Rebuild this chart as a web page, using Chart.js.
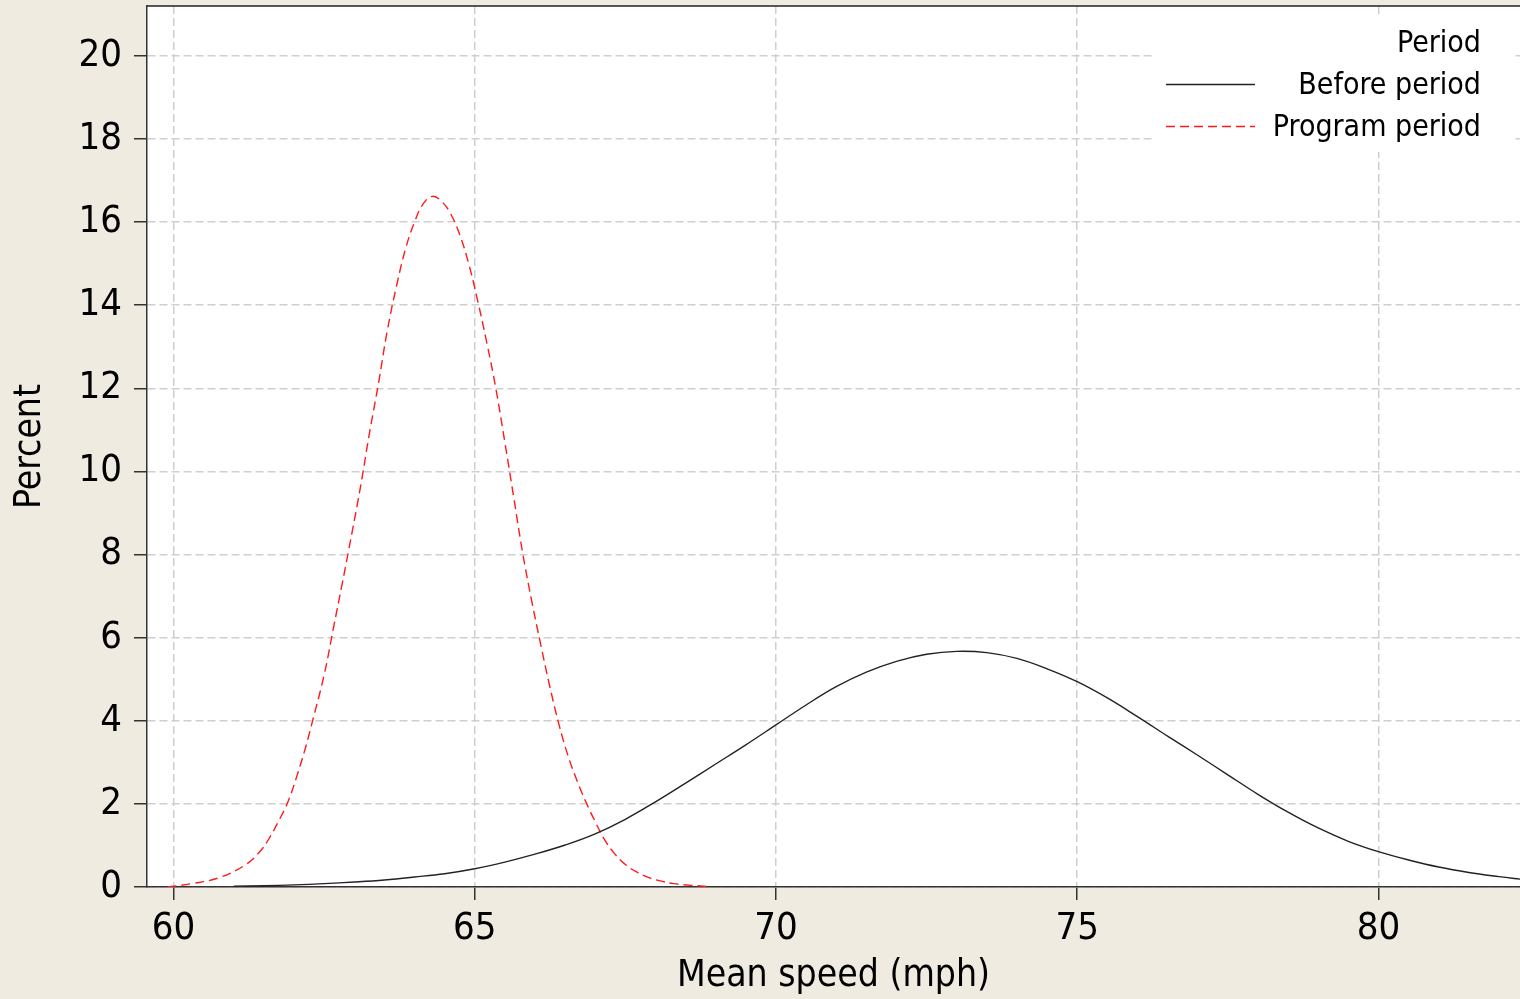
<!DOCTYPE html>
<html>
<head>
<meta charset="utf-8">
<script src="https://cdn.jsdelivr.net/npm/chart.js@4.4.1/dist/chart.umd.min.js"></script>
<style>
  html, body { margin: 0; padding: 0; background: #efebe1; }
  #wrap { width: 1520px; height: 999px; }
</style>
</head>
<body>
<div id="wrap"><canvas id="speedChart" width="1520" height="999"></canvas></div>
<script>
// density of mean speed
const beforeSpeed = [61.0, 61.5, 62.0, 62.5, 63.0, 63.5, 64.0, 64.5, 65.0, 65.5, 66.0, 66.5,
  67.0, 67.5, 68.0, 68.5, 69.0, 69.5, 70.0, 70.5, 71.0, 71.5, 72.0, 72.5, 73.0, 73.5, 74.0,
  74.5, 75.0, 75.5, 76.0, 76.5, 77.0, 77.5, 78.0, 78.5, 79.0, 79.5, 80.0, 80.5, 81.0, 81.5,
  82.0, 82.4];
const beforePercent = [0.02, 0.03, 0.05, 0.08, 0.12, 0.17, 0.24, 0.32, 0.44, 0.6, 0.79, 1.01,
  1.28, 1.63, 2.05, 2.5, 2.96, 3.42, 3.9, 4.38, 4.82, 5.17, 5.43, 5.6, 5.67, 5.64, 5.5,
  5.25, 4.94, 4.55, 4.1, 3.63, 3.17, 2.7, 2.23, 1.8, 1.42, 1.1, 0.85, 0.65, 0.48, 0.35,
  0.25, 0.18];

const programSpeed = [59.9, 60.3, 60.75, 61.2, 61.45, 61.6, 61.75, 61.9, 62.05, 62.2, 62.3,
  62.5, 62.65, 62.8, 62.9, 63.1, 63.25, 63.4, 63.55, 63.7, 63.85, 64.0, 64.15, 64.3, 64.45,
  64.6, 64.75, 64.9, 65.05, 65.2, 65.35, 65.5, 65.65, 65.8, 65.95, 66.1, 66.25, 66.4, 66.55,
  66.7, 66.85, 67.0, 67.15, 67.3, 67.5, 67.7, 67.9, 68.1, 68.3, 68.6, 68.9];
const programPercent = [0.0, 0.08, 0.22, 0.54, 0.88, 1.2, 1.6, 2.05, 2.68, 3.4, 3.95,
  5.1, 6.2, 7.3, 8.05, 9.6, 10.9, 12.1, 13.4, 14.45, 15.35, 16.0, 16.45, 16.62, 16.5,
  16.2, 15.7, 15.0, 14.1, 13.1, 12.0, 10.7, 9.35, 8.0, 6.85, 5.8, 4.8, 3.9, 3.15,
  2.55, 2.03, 1.57, 1.15, 0.84, 0.54, 0.35, 0.22, 0.14, 0.08, 0.04, 0.01];

const xTicks = [60, 65, 70, 75, 80];
const yTicks = [0, 2, 4, 6, 8, 10, 12, 14, 16, 18, 20];

const legendTitle = 'Period';
const FONT = "'DejaVu Sans Condensed', 'DejaVu Sans', sans-serif";

Chart.defaults.font.family = FONT;
Chart.defaults.color = '#000';

const toPoints = (xs, ys) => xs.map((x, i) => ({ x: x, y: ys[i] }));

// beige page, white plot area, top frame line
const frame = {
  id: 'frame',
  beforeDraw(chart) {
    const { ctx, chartArea: a } = chart;
    ctx.save();
    ctx.fillStyle = '#efebe1';
    ctx.fillRect(0, 0, chart.width, chart.height);
    ctx.fillStyle = '#fff';
    ctx.fillRect(a.left, a.top, a.right - a.left, a.bottom - a.top);
    ctx.restore();
  },
  afterDraw(chart) {
    const { ctx, chartArea: a } = chart;
    ctx.save();
    ctx.strokeStyle = '#222';
    ctx.lineWidth = 1.5;
    ctx.beginPath();
    ctx.moveTo(a.left, a.top);
    ctx.lineTo(a.right, a.top);
    ctx.stroke();
    ctx.restore();
  }
};

// right aligned legend like the original
const periodLegend = {
  id: 'periodLegend',
  afterDatasetsDraw(chart) {
    const { ctx, chartArea: a } = chart;
    const right = a.right - 39;
    ctx.save();
    ctx.fillStyle = '#fff';
    ctx.fillRect(a.right - 367, a.top + 12, 360, 134);
    ctx.font = '30px ' + FONT;
    ctx.fillStyle = '#000';
    ctx.textAlign = 'right';
    ctx.textBaseline = 'alphabetic';
    ctx.fillText(legendTitle, right, a.top + 46);
    chart.data.datasets.forEach((ds, i) => {
      const y = a.top + 88 + i * 42;
      ctx.fillText(ds.label, right, y);
      ctx.strokeStyle = ds.borderColor;
      ctx.lineWidth = ds.borderWidth;
      ctx.setLineDash(ds.borderDash || []);
      ctx.beginPath();
      ctx.moveTo(a.right - 354, y - 9.5);
      ctx.lineTo(a.right - 265, y - 9.5);
      ctx.stroke();
      ctx.setLineDash([]);
    });
    ctx.restore();
  }
};

new Chart(document.getElementById('speedChart'), {
  type: 'line',
  data: {
    datasets: [{
      label: 'Before period',
      data: toPoints(beforeSpeed, beforePercent),
      borderColor: '#222',
      borderWidth: 1.4,
      tension: 0.4,
      pointRadius: 0,
      fill: false
    }, {
      label: 'Program period',
      data: toPoints(programSpeed, programPercent),
      borderColor: '#ff1a1a',
      borderWidth: 1.4,
      borderDash: [9, 5],
      tension: 0.4,
      pointRadius: 0,
      fill: false
    }]
  },
  options: {
    responsive: false,
    animation: false,
    layout: { padding: { top: 6, right: 0, bottom: 0, left: 0 } },
    plugins: {
      legend: { display: false },
      tooltip: { enabled: false }
    },
    scales: {
      x: {
        type: 'linear',
        min: 59.56,
        max: 82.35,
        afterBuildTicks: s => { s.ticks = xTicks.map(v => ({ value: v })); },
        afterFit: s => { s.height = 112; s.paddingLeft = 0; s.paddingRight = 0; },
        ticks: { font: { size: 38 }, color: '#000', padding: 6, maxRotation: 0, autoSkip: false },
        grid: { color: '#cfcfcf', lineWidth: 1.5, tickLength: 13, tickColor: '#333', tickWidth: 1.5 },
        border: { color: '#333', width: 1.5, dash: [8, 4] },
        title: {
          display: true,
          text: 'Mean speed (mph)',
          font: { size: 37 },
          color: '#000',
          padding: { top: 0, bottom: 0 }
        }
      },
      y: {
        type: 'linear',
        min: 0,
        max: 21.2,
        afterBuildTicks: s => { s.ticks = yTicks.map(v => ({ value: v })); },
        afterFit: s => { s.width = 147; s.paddingTop = 0; s.paddingBottom = 0; },
        ticks: { font: { size: 38 }, color: '#000', padding: 12, autoSkip: false },
        grid: { color: '#cfcfcf', lineWidth: 1.5, tickLength: 13, tickColor: '#333', tickWidth: 1.5 },
        border: { color: '#333', width: 1.5, dash: [8, 4] },
        title: {
          display: true,
          text: 'Percent',
          font: { size: 37 },
          color: '#000',
          padding: { top: 8, bottom: 0 }
        }
      }
    }
  },
  plugins: [frame, periodLegend]
});
</script>
</body>
</html>
